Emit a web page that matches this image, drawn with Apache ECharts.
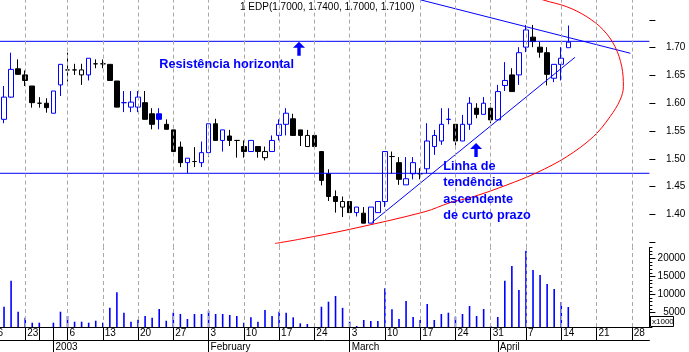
<!DOCTYPE html>
<html><head><meta charset="utf-8">
<script src="https://cdn.jsdelivr.net/npm/echarts@6/dist/echarts.min.js"></script>
<style>html,body{margin:0;padding:0;background:#fff}#c{width:689px;height:352px}</style>
</head><body><div id="c"></div>
<script>
// ---------- DATA ----------
const dates = ['2002-12-16','2002-12-17','2002-12-18','2002-12-19','2002-12-20','2002-12-23','2002-12-24','2002-12-30','2002-12-31',
'2003-01-02','2003-01-03','2003-01-06','2003-01-07','2003-01-08','2003-01-09','2003-01-10','2003-01-13','2003-01-14','2003-01-15','2003-01-16','2003-01-17',
'2003-01-20','2003-01-21','2003-01-22','2003-01-23','2003-01-24','2003-01-27','2003-01-28','2003-01-29','2003-01-30','2003-01-31',
'2003-02-03','2003-02-04','2003-02-05','2003-02-06','2003-02-07','2003-02-10','2003-02-11','2003-02-12','2003-02-13','2003-02-14',
'2003-02-17','2003-02-18','2003-02-19','2003-02-20','2003-02-21','2003-02-24','2003-02-25','2003-02-26','2003-02-27','2003-02-28',
'2003-03-03','2003-03-04','2003-03-05','2003-03-06','2003-03-07','2003-03-10','2003-03-11','2003-03-12','2003-03-13','2003-03-14',
'2003-03-17','2003-03-18','2003-03-19','2003-03-20','2003-03-21','2003-03-24','2003-03-25','2003-03-26','2003-03-27','2003-03-28',
'2003-03-31','2003-04-01','2003-04-02','2003-04-03','2003-04-04','2003-04-07','2003-04-08','2003-04-09','2003-04-10','2003-04-11',
'2003-04-14','2003-04-15','2003-04-16','2003-04-17','2003-04-18','2003-04-21','2003-04-22','2003-04-23','2003-04-24','2003-04-25',
'2003-04-28','2003-04-29','2003-04-30'];

const opens = [null,null,1.571,1.611,1.662,1.651,1.631,1.600,1.600,1.582,1.633,1.660,1.660,1.651,1.651,1.671,1.671,1.670,1.640,1.601,
1.593,1.593,1.601,1.581,1.581,1.562,1.552,1.521,1.493,1.495,1.493,1.511,1.563,1.533,1.541,1.533,1.522,1.513,1.522,1.502,
1.513,1.542,1.562,1.572,1.552,1.522,1.542,1.513,1.473,1.432,1.413,1.423,1.403,1.402,1.384,1.403,1.423,1.504,1.493,1.453,
1.473,1.473,1.482,1.522,1.532,1.571,1.562,1.532,1.562,1.591,1.580,1.591,1.570,1.632,1.651,1.651,1.701,1.719,1.701,1.691,
1.645,1.670,1.700];
const highs = [null,null,1.631,1.691,1.679,1.659,1.631,1.611,1.609,1.622,1.670,1.691,1.671,1.671,1.681,1.679,1.679,1.670,1.640,1.622,
1.622,1.622,1.622,1.591,1.591,1.571,1.552,1.531,1.501,1.521,1.531,1.563,1.572,1.552,1.552,1.533,1.533,1.533,1.522,1.522,
1.542,1.571,1.591,1.581,1.552,1.552,1.542,1.513,1.481,1.443,1.432,1.423,1.413,1.413,1.413,1.423,1.513,1.513,1.503,1.503,
1.503,1.483,1.564,1.552,1.591,1.591,1.562,1.579,1.611,1.600,1.611,1.600,1.633,1.674,1.663,1.701,1.741,1.741,1.711,1.701,
1.670,1.701,1.740];
const lows = [null,null,1.564,1.610,1.652,1.631,1.592,1.592,1.583,1.582,1.613,1.639,1.651,1.633,1.641,1.663,1.663,1.641,1.593,1.584,
1.584,1.584,1.571,1.553,1.553,1.553,1.513,1.485,1.474,1.485,1.485,1.503,1.533,1.513,1.523,1.502,1.502,1.513,1.502,1.497,
1.513,1.533,1.542,1.542,1.523,1.522,1.522,1.452,1.424,1.403,1.395,1.403,1.396,1.384,1.384,1.403,1.413,1.473,1.453,1.453,
1.463,1.463,1.474,1.507,1.525,1.562,1.524,1.532,1.552,1.573,1.580,1.564,1.570,1.622,1.621,1.633,1.692,1.701,1.682,1.632,
1.638,1.641,1.700];
const closes = [null,null,1.611,1.661,1.652,1.641,1.601,1.600,1.592,1.622,1.670,1.660,1.660,1.660,1.681,1.671,1.671,1.641,1.593,1.601,
1.602,1.611,1.571,1.562,1.571,1.553,1.513,1.493,1.501,1.495,1.511,1.563,1.533,1.552,1.533,1.533,1.513,1.533,1.513,1.513,
1.533,1.562,1.582,1.542,1.542,1.542,1.522,1.461,1.432,1.423,1.423,1.403,1.413,1.384,1.413,1.423,1.513,1.504,1.463,1.464,
1.493,1.473,1.532,1.542,1.562,1.571,1.532,1.562,1.600,1.580,1.600,1.570,1.621,1.641,1.621,1.691,1.732,1.711,1.692,1.652,
1.670,1.681,1.710];
const volumes = [null,null,6610,13800,5230,3570,2190,2190,1000,2190,5230,4040,2470,2470,2190,2740,2190,6340,10600,4960,
2470,3020,4040,3570,5980,2740,4960,4600,3210,4600,4600,5510,4600,4600,4320,4040,2190,3680,2470,5700,
4040,5230,4960,3680,2020,1830,1000,6610,8000,9570,6300,2470,1280,2940,2660,2660,11700,5890,3210,8190,
3770,2940,7360,2940,4600,4960,3850,4600,6810,4040,5980,1280,3770,13800,17870,11230,22100,16760,15380,12890,
11510,7910,6530];

const weekLabelDates = ['2002-12-16','2002-12-23','2003-01-06','2003-01-13','2003-01-20','2003-01-27','2003-02-03','2003-02-10',
'2003-02-17','2003-02-24','2003-03-03','2003-03-10','2003-03-17','2003-03-24','2003-03-31','2003-04-07','2003-04-14','2003-04-21','2003-04-28'];
const extraDayTickDates = ['2002-12-30','2003-01-02'];
const monthStartDates = ['2003-01-02','2003-02-03','2003-03-03','2003-04-01'];
const monthLabels = ['2003','February','March','April'];
const priceLabelValues = [1.40,1.45,1.50,1.55,1.60,1.65,1.70];
const priceMajorTicks = [1.35,1.40,1.45,1.50,1.55,1.60,1.65,1.70,1.75];
const volumeLabelValues = [5000,10000,15000,20000];

const resistanceLevel = 1.7115;
const supportLevel = 1.4738;
// trend lines / curve in (bar index, price)
const downTrend = [[61.1,1.786],[90.8,1.690]];
const upTrend = [[54.13,1.3849],[82.95,1.6827]];
const redCurve = [[76.6,1.795],[78.46,1.7859],[81.78,1.7738],[84.62,1.7558],[86.97,1.7319],[88.63,1.7018],[89.58,1.6658],
[89.81,1.6298],[89.34,1.6058],[87.92,1.5757],[85.55,1.5397],[81.78,1.5037],[77.53,1.4749],[73.27,1.4527],[68.54,1.4317],
[65.23,1.4209],[61.69,1.4047],[51.05,1.3730],[43.86,1.3550],[40.42,1.3474]];
const arrowAnchors = [[43.82,1.698],[68.92,1.5158]];
const noteTexts = ['Resistência horizontal','Linha de\ntendência\nascendente\nde curto prazo'];
const noteAnchors = [[24.01,1.6706],[64.28,1.4415]];

// ---------- CHART ----------
const BLUE = '#0000ff', BLACK = '#000000';
const FONT = 'Liberation Sans';
const last = opens.length - 1;
const f4 = v => v.toFixed(4);
const titleText = '1 EDP(' + f4(opens[last]) + ', ' + f4(highs[last]) + ', ' + f4(lows[last]) + ', ' + f4(closes[last]) + ')';

const candleData = opens.map((o, i) => {
  if (o == null) return ['-','-','-','-'];
  const c = closes[i];
  const prev = i > 0 ? closes[i-1] : null;
  const col = (prev == null || c > prev) ? BLUE : BLACK;
  const fill = c > o ? '#ffffff' : col;
  return {value: [o, c, lows[i], highs[i]],
    itemStyle: {color: fill, color0: fill, borderColor: col, borderColor0: col, borderColorDoji: col}};
});
const volData = volumes.map(v => v == null ? '-' : v);

const weekSet = new Set(weekLabelDates);
const dayTickSet = new Set(weekLabelDates.concat(extraDayTickDates));
const monthMap = {};
monthStartDates.forEach((d, k) => monthMap[d] = monthLabels[k]);

const gridLines = weekLabelDates.map(d => ({xAxis: d}));
const gridLineStyle = {color: '#a8a8a8', type: [4, 3], width: 1};

const GL = -13.6, GW = 663;
const PMIN = 1.34, PMAX = 1.7859;
const VMIN = 1000, VMAX = 22958;
const XMIN = -0.5, XMAX = dates.length - 0.5;

const arrowPath = 'path://M6,0 L12,6 L7.7,6 L7.7,14 L4.3,14 L4.3,6 L0,6 Z';
const markPoints = arrowAnchors.map(a => ({coord: a, symbol: arrowPath, symbolSize: [12, 14],
    itemStyle: {color: BLUE}, label: {show: false}}))
  .concat(noteAnchors.map((a, k) => ({coord: a, symbol: 'circle', symbolSize: 0.01,
    itemStyle: {color: 'transparent'},
    label: {show: true, formatter: noteTexts[k], position: 'right', distance: 0, align: 'left', verticalAlign: 'middle',
      color: BLUE, fontFamily: FONT, fontWeight: 'bold', fontSize: 12.7, lineHeight: 16.5}})));

const lineSeries = (data, color, extra) => Object.assign({type: 'line', xAxisIndex: 3, yAxisIndex: 0, data: data,
  color: color, itemStyle: {color: color}, showSymbol: false, symbol: 'none',
  lineStyle: {color: color, width: 1, opacity: 1}, silent: true, z: 4}, extra || {});

const chart = echarts.init(document.getElementById('c'), null, {renderer: 'canvas'});
chart.setOption({
  animation: false,
  backgroundColor: '#ffffff',
  title: {text: titleText, left: 240, top: 2, padding: 0,
    textStyle: {fontSize: 10, fontWeight: 'normal', fontFamily: FONT, color: '#000'}},
  grid: [
    {left: GL, top: 0, width: GW, height: 247.6, containLabel: false, outerBoundsMode: 'none'},
    {left: GL, top: 247.6, width: GW, height: 79.4, containLabel: false, outerBoundsMode: 'none'}
  ],
  xAxis: [
    {type: 'category', gridIndex: 0, data: dates, boundaryGap: true, show: false},
    {type: 'category', gridIndex: 1, data: dates, boundaryGap: true, position: 'bottom',
      axisLine: {show: true, onZero: false, lineStyle: {color: '#000', width: 1}},
      axisTick: {show: true, alignWithLabel: true, length: 13, lineStyle: {color: '#000'},
        interval: (i, v) => dayTickSet.has(v)},
      axisLabel: {show: true, interval: (i, v) => weekSet.has(v), formatter: v => String(Number(v.slice(8, 10))),
        align: 'left', margin: 1, padding: [0, 0, 0, 2], fontSize: 10, fontFamily: FONT, color: '#000'},
      splitLine: {show: false}},
    {type: 'category', gridIndex: 1, data: dates, boundaryGap: true, position: 'bottom', offset: 13,
      axisLine: {show: true, onZero: false, lineStyle: {color: '#000', width: 1}},
      axisTick: {show: true, alignWithLabel: true, length: 12, lineStyle: {color: '#000'},
        interval: (i, v) => (v in monthMap)},
      axisLabel: {show: true, interval: (i, v) => (v in monthMap), formatter: v => monthMap[v] || '',
        align: 'left', margin: 2, padding: [0, 0, 0, 2], fontSize: 10, fontFamily: FONT, color: '#000'},
      splitLine: {show: false}},
    {type: 'value', gridIndex: 0, min: XMIN, max: XMAX, position: 'top', show: false}
  ],
  yAxis: [
    {type: 'value', gridIndex: 0, position: 'right', min: PMIN, max: PMAX, interval: 0.01, scale: true,
      axisLine: {show: true, lineStyle: {color: '#000'}},
      axisTick: {show: true, length: 3, lineStyle: {color: '#000'}},
      axisLabel: {show: true, align: 'right', margin: 36, fontSize: 10, fontFamily: FONT, color: '#000',
        formatter: v => { const r = Math.round(v * 100) / 100; return priceLabelValues.some(p => Math.abs(p - r) < 1e-6) ? r.toFixed(2) : ''; }},
      splitLine: {show: false}},
    {type: 'value', gridIndex: 0, position: 'right', min: PMIN, max: PMAX, scale: true,
      axisLine: {show: false},
      axisTick: {show: true, length: 6, customValues: priceMajorTicks, lineStyle: {color: '#000'}},
      axisLabel: {show: false}, splitLine: {show: false}},
    {type: 'value', gridIndex: 1, position: 'right', min: VMIN, max: VMAX, interval: 1000, scale: true,
      axisLine: {show: true, lineStyle: {color: '#000'}},
      axisTick: {show: true, length: 3, lineStyle: {color: '#000'}},
      axisLabel: {show: true, align: 'right', margin: 36, fontSize: 10, fontFamily: FONT, color: '#000',
        formatter: v => volumeLabelValues.indexOf(Math.round(v)) >= 0 ? String(Math.round(v)) : ''},
      splitLine: {show: false}},
    {type: 'value', gridIndex: 1, position: 'right', min: VMIN, max: VMAX, scale: true,
      axisLine: {show: false},
      axisTick: {show: true, length: 6, customValues: volumeLabelValues, lineStyle: {color: '#000'}},
      axisLabel: {show: false}, splitLine: {show: false}}
  ],
  series: [
    {type: 'candlestick', xAxisIndex: 0, yAxisIndex: 0, data: candleData, barWidth: 5, z: 3,
      itemStyle: {borderWidth: 1},
      markLine: {silent: true, symbol: ['none', 'none'], label: {show: false}, animation: false,
        lineStyle: gridLineStyle, data: gridLines}},
    {type: 'bar', xAxisIndex: 1, yAxisIndex: 2, data: volData, barWidth: 1.6, itemStyle: {color: BLUE},
      markLine: {silent: true, symbol: ['none', 'none'], label: {show: false}, animation: false,
        lineStyle: gridLineStyle, data: gridLines}},
    lineSeries([[XMIN, resistanceLevel], [XMAX, resistanceLevel]], BLUE),
    lineSeries([[XMIN, supportLevel], [XMAX, supportLevel]], BLUE),
    lineSeries(downTrend, BLUE, {markPoint: {silent: true, animation: false, data: markPoints}}),
    lineSeries(upTrend, BLUE),
    lineSeries(redCurve, '#ff0000', {smooth: 0.35})
  ],
  graphic: [
    {type: 'rect', z: 100, shape: {x: 650.5, y: 316.5, width: 23, height: 10},
      style: {fill: '#ffffff', stroke: '#000000', lineWidth: 1}},
    {type: 'text', z: 101, x: 652, y: 317.5,
      style: {text: 'x1000', fontSize: 8, fontFamily: FONT, fill: '#000', textVerticalAlign: 'top'}}
  ]
});
</script>
</body></html>
